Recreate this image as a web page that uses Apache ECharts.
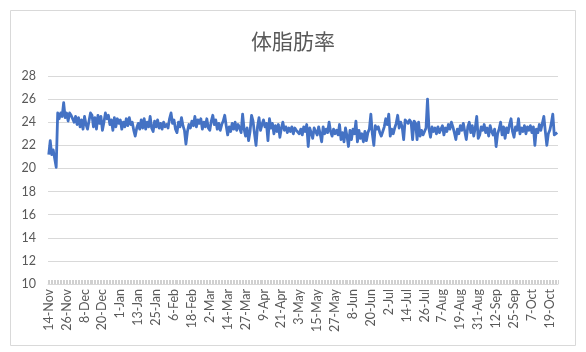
<!DOCTYPE html>
<html>
<head>
<meta charset="utf-8">
<script src="https://cdn.jsdelivr.net/npm/echarts@6/dist/echarts.min.js"></script>
<style>
html,body{margin:0;padding:0;background:#fff;}
#c{width:586px;height:352px;}
</style>
</head>
<body>
<div id="c"></div>
<script>
// ---- data (体脂肪率, daily readings) ----
const title = '体脂肪率';
const monthNames = ['Nov','Dec','Jan','Feb','Mar','Apr','May','Jun','Jul','Aug','Sep','Oct'];
// first day, last day and skipped (no reading) days of each month
const monthStart = [14,1,1,1,1,1,1,1,1,1,1,1];
const monthEnd   = [30,31,31,28,31,30,31,30,31,31,30,24];
const monthSkip  = [[],[],[],[],[20,31],[],[],[],[],[],[18],[]];

const nov = [21.2,22.4,21.2,21.6,21.5,20.1,24.8,24.3,24.8,24.5,25.7,24.4,24.8,24.1,24.8,24.6,24.7];
const dec = [24.0,24.5,23.8,24.4,23.6,24.2,23.4,24.5,23.8,23.4,24.1,24.8,24.6,23.6,24.4,23.4,24.6,23.9,24.5,23.3,24.0,24.8,24.3,24.6,23.8,24.2,23.3,24.4,23.6,24.3,23.9];
const jan = [24.2,23.4,24.0,23.6,24.3,23.7,24.4,23.8,24.0,23.3,22.8,23.5,23.9,23.4,24.2,23.5,24.3,23.4,24.0,23.6,24.5,23.5,23.2,24.1,23.6,24.2,23.5,23.9,23.4,24.0,23.6];
const feb = [23.8,23.5,24.3,24.8,23.9,24.2,23.4,23.1,24.0,23.6,24.4,23.7,23.3,22.1,23.2,23.8,23.5,24.1,23.7,24.5,23.6,24.2,23.9,24.3,23.4,24.0,23.6,24.3];
const mar = [23.5,23.3,24.1,24.6,23.8,24.2,23.4,23.9,23.3,23.8,24.1,24.6,23.7,22.9,23.6,23.2,23.9,23.4,24.0,23.3,23.8,23.5,23.1,24.7,23.4,22.8,23.5,22.4,23.2];
const apr = [24.6,24.1,23.0,22.0,23.6,24.4,23.3,23.8,24.2,23.6,23.9,22.4,24.3,23.5,23.9,23.0,23.7,23.2,23.8,22.7,23.5,24.0,23.3,23.6,23.1,23.5,23.2,23.6,23.0,23.5];
const may = [23.3,23.4,23.0,23.4,22.9,23.6,23.2,23.8,21.9,23.5,23.1,22.6,23.5,23.2,22.9,23.6,23.0,22.3,23.6,23.0,23.4,23.1,24.0,23.2,22.8,23.4,23.0,23.3,22.9,23.8,22.5];
const jun = [23.1,22.3,23.5,22.8,21.9,23.3,22.5,23.4,23.0,24.1,22.3,23.3,22.6,23.0,22.3,23.2,22.4,23.1,23.4,24.7,23.0,22.0,23.7,23.4,23.6,23.1,22.8,23.2,23.6,24.3];
const jul = [23.8,24.7,22.8,23.4,23.0,23.5,23.9,24.6,23.5,24.0,23.6,22.5,24.2,24.1,23.9,24.2,24.0,22.5,24.1,23.9,22.5,24.0,22.8,23.3,22.9,23.2,23.5,26.0,23.4,22.7,23.6];
const aug = [23.2,23.5,23.0,23.6,23.1,23.4,23.7,22.9,23.5,23.2,23.8,23.4,24.0,23.6,23.1,22.5,23.4,23.0,23.7,23.3,23.9,23.2,22.5,23.6,24.0,23.1,23.7,22.8,23.5,24.5,22.6];
const sep = [22.9,23.6,23.3,23.8,23.1,23.5,22.8,23.7,23.2,22.9,23.4,21.9,23.0,23.4,24.0,22.9,23.6,22.6,23.5,23.1,23.8,24.3,23.2,22.7,23.6,23.3,24.3,23.0,23.5];
const oct = [23.2,23.7,23.0,23.6,23.3,23.7,23.1,23.6,22.0,23.4,23.1,23.8,23.3,23.9,24.5,23.2,22.0,23.0,23.3,23.9,24.7,22.9,23.0,23.1];

const yTicks = {min:10, max:28, step:2};

// ---- build categories and series ----
const monthData = [nov,dec,jan,feb,mar,apr,may,jun,jul,aug,sep,oct];
const categories = [];
const values = [];
monthNames.forEach((m,i)=>{
  let k = 0;
  for(let d=monthStart[i]; d<=monthEnd[i]; d++){
    if(monthSkip[i].indexOf(d) >= 0) continue;
    categories.push(d + '-' + m);
    values.push(monthData[i][k++]);
  }
});

const chart = echarts.init(document.getElementById('c'), null, {renderer:'canvas'});
const labelFont = 'Lato, "Liberation Sans", sans-serif';
chart.setOption({
  backgroundColor:'#ffffff',
  animation:false,
  title:{
    text:title, left:'center', top:26,
    textStyle:{fontFamily:'"Noto Sans CJK JP", sans-serif', fontSize:21, fontWeight:'normal', color:'#595959'}
  },
  graphic:[{
    type:'rect', silent:true, z:-1,
    shape:{x:10.5, y:10.5, width:565, height:335},
    style:{fill:'none', stroke:'#d9d9d9', lineWidth:1}
  }],
  grid:{left:48, right:28, top:76, bottom:68, containLabel:false},
  xAxis:{
    type:'category',
    data:categories,
    boundaryGap:true,
    axisLine:{show:true, lineStyle:{color:'#d9d9d9', width:1}},
    axisTick:{show:true, interval:0, length:4, inside:true, lineStyle:{color:'#d0d0d0', width:1}},
    axisLabel:{interval:11, rotate:90, margin:5, fontSize:12.5, color:'#595959', fontFamily:labelFont}
  },
  yAxis:{
    type:'value',
    min:yTicks.min, max:yTicks.max, interval:yTicks.step,
    axisLine:{show:false}, axisTick:{show:false},
    splitLine:{lineStyle:{color:'#d9d9d9', width:1}},
    axisLabel:{fontSize:12.5, color:'#595959', margin:12, fontFamily:labelFont}
  },
  series:[{
    type:'line', data:values, showSymbol:false, symbol:'none',
    lineStyle:{color:'#4472c4', width:2.8, join:'round'},
    itemStyle:{color:'#4472c4'}
  }]
});
</script>
</body>
</html>
